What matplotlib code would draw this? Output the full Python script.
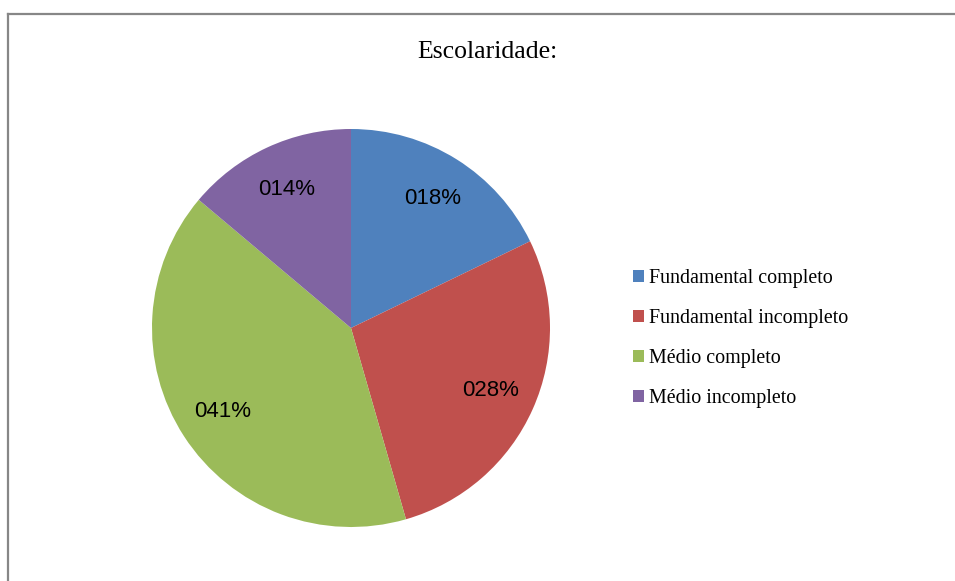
import matplotlib.pyplot as plt
from matplotlib.patches import Patch
from matplotlib.lines import Line2D
import numpy as np

# dados
categorias = ["Fundamental completo", "Fundamental incompleto", "Médio completo", "Médio incompleto"]
valores = [18, 28, 41, 14]
rotulos = ["018%", "028%", "041%", "014%"]
cores = ["#4F81BD", "#C0504D", "#9BBB59", "#8064A2"]

W, H = 955, 581
fig = plt.figure(figsize=(W / 100, H / 100), dpi=100)

# moldura (cortada na direita e embaixo)
fig.add_artist(Line2D([7.5 / W, 7.5 / W], [-0.1, 1 - 13.5 / H], color="#878787", lw=1.6, transform=fig.transFigure))
fig.add_artist(Line2D([7.5 / W, 1.1], [1 - 13.5 / H, 1 - 13.5 / H], color="#878787", lw=1.6, transform=fig.transFigure))

cx, cy, r = 351, 328, 199
ax = fig.add_axes([(cx - r) / W, 1 - (cy + r) / H, 2 * r / W, 2 * r / H])
wedges, _ = ax.pie(valores, colors=cores, startangle=90, counterclock=False, radius=1,
                   wedgeprops=dict(linewidth=0))
ax.set_xlim(-1, 1)
ax.set_ylim(-1, 1)
ax.set_aspect("equal")
ax.axis("off")

for w, txt in zip(wedges, rotulos):
    ang = np.deg2rad((w.theta1 + w.theta2) / 2)
    ax.text(0.77 * np.cos(ang), 0.77 * np.sin(ang), txt, ha="center", va="center",
            fontsize=16, family="Liberation Sans", color="black")

fig.text(487 / W, 1 - 52 / H, "Escolaridade:", ha="center", va="center",
         fontsize=18.5, family="Liberation Serif")

handles = [Patch(facecolor=c, edgecolor="none") for c in cores]
fig.legend(handles, categorias, loc="center left", bbox_to_anchor=(615 / W, 1 - 339 / H),
           frameon=False, prop={"family": "Liberation Serif", "size": 14.4},
           handlelength=0.55, handleheight=0.55, handletextpad=0.25, labelspacing=1.05)

fig.savefig("out.png", dpi=100)
